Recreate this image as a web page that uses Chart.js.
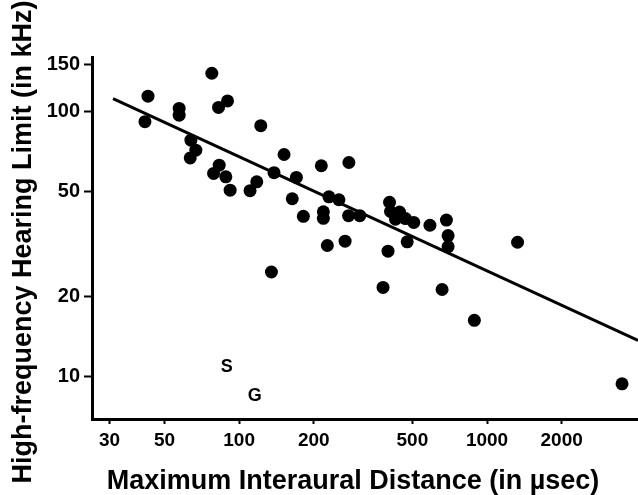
<!DOCTYPE html>
<html><head><meta charset="utf-8">
<script src="https://cdn.jsdelivr.net/npm/chart.js@4/dist/chart.umd.min.js"></script>
<style>html,body{margin:0;padding:0;background:#fff;} #wrap{width:638px;height:495px;position:relative;}</style>
</head><body><div id="wrap"><canvas id="c" width="638" height="495"></canvas></div>
<script>
// Maximum interaural distance (µsec) and high-frequency hearing limit (kHz)
const distance = [42.9, 41.7, 57.3, 57.3, 77.6, 89.8, 82.6, 122.3, 63.9, 66.9,
  63.5, 83.1, 78.9, 88.4, 92.0, 117.8, 110.7, 151.8, 138.3, 214.6,
  277.2, 170.2, 163.8, 230.3, 252.7, 181.6, 218.7, 218.7, 276.4, 306.7,
  404.3, 408.0, 443.6, 427.5, 469.1, 506.4, 588.5, 685.8, 696.6, 696.6,
  476.4, 398.7, 226.9, 267.6, 135.0, 380.7, 658.8, 889, 1328, 3505];
const hearingLimit = [113.9, 91.3, 102.4, 96.6, 139.0, 109.3, 103.3, 88.2, 77.8, 71.3,
  66.7, 62.6, 58.3, 56.6, 50.4, 54.2, 50.2, 68.7, 58.7, 62.3,
  64.1, 56.3, 46.8, 47.6, 46.4, 40.2, 41.8, 39.5, 40.4, 40.4,
  45.4, 41.9, 41.7, 39.2, 39.4, 38.1, 37.2, 38.9, 34.0, 30.9,
  32.2, 29.7, 31.2, 32.4, 24.8, 21.7, 21.3, 16.3, 32.1, 9.4];
// Regression line end points
const fitDistance = [31, 4065];
const fitLimit = [111.5, 13.7];
// Tick labels
const xTickValues = [30, 50, 100, 200, 500, 1000, 2000];
const yTickValues = [10, 20, 50, 100, 150];
// Letter markers
const markerLabels = ['S', 'G'];
const markerDistance = [89.2, 115.7];
const markerLimit = [10.9, 8.46];
const xTitle = 'Maximum Interaural Distance (in \u00b5sec)';
const yTitle = 'High-frequency Hearing Limit (in kHz)';

const points = distance.map((d, i) => ({x: d, y: hearingLimit[i]}));
const fitLine = fitDistance.map((d, i) => ({x: d, y: fitLimit[i]}));

const FONT = "'Liberation Sans', Arial, Helvetica, sans-serif";

const extrasPlugin = {
  id: 'extras',
  afterDraw(chart) {
    const ctx = chart.ctx;
    const xs = chart.scales.x, ys = chart.scales.y;
    ctx.save();
    ctx.fillStyle = '#000';
    ctx.font = 'bold 18px ' + FONT;
    ctx.textAlign = 'center';
    ctx.textBaseline = 'middle';
    markerLabels.forEach((t, i) => {
      ctx.fillText(t, xs.getPixelForValue(markerDistance[i]), ys.getPixelForValue(markerLimit[i]));
    });
    ctx.font = 'bold 27px ' + FONT;
    ctx.textBaseline = 'alphabetic';
    ctx.fillText(xTitle, 353, 489);
    ctx.translate(31, 242);
    ctx.rotate(-Math.PI / 2);
    ctx.fillText(yTitle, 0, 0);
    ctx.restore();
  }
};

new Chart(document.getElementById('c'), {
  type: 'scatter',
  data: {
    datasets: [
      {
        data: points,
        pointRadius: 6.5,
        pointBackgroundColor: '#000',
        pointBorderWidth: 0,
        pointHoverRadius: 6.5
      },
      {
        data: fitLine,
        showLine: true,
        borderColor: '#000',
        borderWidth: 3,
        pointRadius: 0,
        pointHoverRadius: 0
      }
    ]
  },
  options: {
    responsive: false,
    devicePixelRatio: 1,
    animation: false,
    events: [],
    layout: {autoPadding: false, padding: {top: 57, left: 0, right: 0, bottom: 0}},
    plugins: {legend: {display: false}, tooltip: {enabled: false}},
    scales: {
      x: {
        type: 'logarithmic',
        min: 25.5,
        max: 4065,
        afterBuildTicks: s => { s.ticks = xTickValues.map(v => ({value: v})); },
        afterFit: s => { s.height = 76; },
        ticks: {
          callback: v => String(v),
          font: {family: FONT, weight: 'bold', size: 19},
          color: '#000',
          padding: 5,
          autoSkip: false,
          maxRotation: 0
        },
        grid: {drawOnChartArea: false, drawTicks: true, tickLength: 5, tickWidth: 2, tickColor: '#000'},
        border: {display: true, color: '#000', width: 3}
      },
      y: {
        type: 'logarithmic',
        min: 6.93,
        max: 160,
        afterBuildTicks: s => { s.ticks = yTickValues.map(v => ({value: v})); },
        afterFit: s => { s.width = 92; },
        ticks: {
          callback: v => String(v),
          font: {family: FONT, weight: 'bold', size: 20},
          color: '#000',
          padding: 4,
          autoSkip: false
        },
        grid: {drawOnChartArea: false, drawTicks: true, tickLength: 8, tickWidth: 2, tickColor: '#000'},
        border: {display: true, color: '#000', width: 3}
      }
    }
  },
  plugins: [extrasPlugin]
});
</script>
</body></html>
